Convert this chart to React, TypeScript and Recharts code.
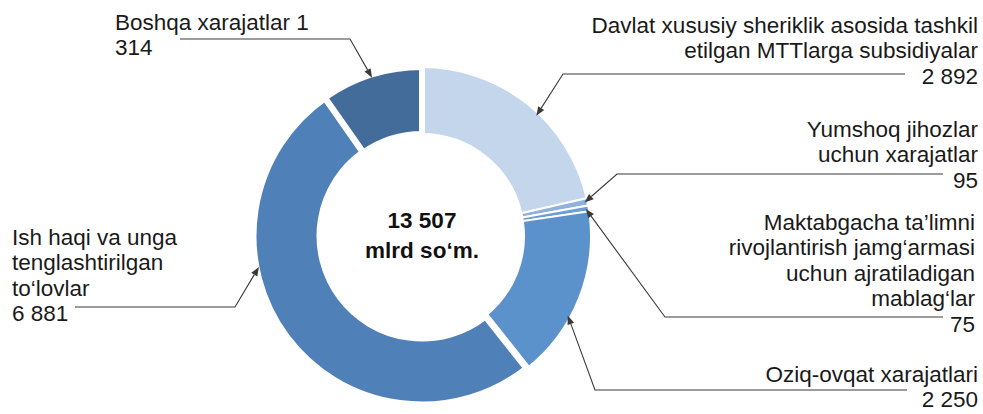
import React from "react";
import { PieChart, Pie, Cell } from "recharts";

// Data (mlrd so'm)
const NAMES = [
  "Davlat xususiy sheriklik asosida tashkil etilgan MTTlarga subsidiyalar",
  "Yumshoq jihozlar uchun xarajatlar",
  "Maktabgacha ta’limni rivojlantirish jamg‘armasi uchun ajratiladigan mablag‘lar",
  "Oziq-ovqat xarajatlari",
  "Ish haqi va unga tenglashtirilgan to‘lovlar",
  "Boshqa xarajatlar",
];
const VALUES = [2892, 95, 75, 2250, 6881, 1314];
const TOTAL_LINES = ["13 507", "mlrd so‘m."];

const COLORS = ["#c4d6eb", "#8eb1dd", "#6e9dd4", "#5b92cc", "#4f80b8", "#436c9b"];
// stroke widths per slice -> white gaps between slices
const GAPS = [2, 2, 2, 2, 7, 6];

const FONT = "'Liberation Sans', Arial, sans-serif";
const FS = 22.5;
const LH = 25.4;
const LINE = "#3a3a3a";

// label layout: words per line, text anchor, text x, first baseline, leader start/elbow, angle shift
const LAYOUT = [
  { words: [5, 3, 2], anchor: "end", x: 978, y: 33, lx: 905, ex: 563, ey: 74, shift: -5 },
  { words: [2, 2, 1], anchor: "end", x: 978, y: 137, lx: 943, ex: 617, ey: 174, shift: 0 },
  { words: [2, 2, 2, 1, 1], anchor: "end", x: 975, y: 230, lx: 943, ex: 665, ey: 317, shift: 0 },
  { words: [2, 2], anchor: "end", x: 978, y: 382, lx: 907, ex: 595, ey: 390, shift: -7 },
  { words: [4, 1, 1, 2], anchor: "start", x: 12, y: 245, lx: 75, ex: 235, ey: 307, shift: -26 },
  { words: [3, 1], anchor: "start", x: 115, y: 30, lx: 180, ex: 350, ey: 39, shift: 0 },
];

const data = NAMES.map((name, i) => ({ name, value: VALUES[i] }));

const fmt = (v: number) => String(v).replace(/\B(?=(\d{3})+(?!\d))/g, " ");

function splitLines(text: string, words: number[]) {
  const tokens = text.split(" ");
  const out: string[] = [];
  let k = 0;
  for (const n of words) {
    out.push(tokens.slice(k, k + n).join(" "));
    k += n;
  }
  return out;
}

const renderLabel = (props: any) => {
  const { cx, cy, midAngle, outerRadius, index, name, value } = props;
  const L = LAYOUT[index];
  const ang = ((midAngle + L.shift) * Math.PI) / 180;
  const r = outerRadius - 3;
  const tx = cx + r * Math.cos(ang);
  const ty = cy - r * Math.sin(ang);
  const dx = tx - L.ex;
  const dy = ty - L.ey;
  const len = Math.hypot(dx, dy);
  const ux = dx / len;
  const uy = dy / len;
  const bx = tx - ux * 9;
  const by = ty - uy * 9;
  const lines = splitLines(`${name} ${fmt(value)}`, L.words);

  return (
    <g key={`lbl-${index}`}>
      {index === 0 &&
        TOTAL_LINES.map((t, j) => (
          <text
            key={t}
            x={cx}
            y={cy - 8 + j * 30}
            textAnchor="middle"
            fontFamily={FONT}
            fontSize={FS}
            fontWeight="bold"
            fill="#111"
          >
            {t}
          </text>
        ))}
      <polyline
        points={`${L.lx},${L.ey} ${L.ex},${L.ey} ${bx},${by}`}
        fill="none"
        stroke={LINE}
        strokeWidth={1.1}
      />
      <polygon
        points={`${tx},${ty} ${bx - uy * 3.5},${by + ux * 3.5} ${bx + uy * 3.5},${by - ux * 3.5}`}
        fill={LINE}
      />
      {lines.map((t, j) => (
        <text
          key={j}
          x={L.x}
          y={L.y + j * LH}
          textAnchor={L.anchor}
          fontFamily={FONT}
          fontSize={FS}
          fill="#1a1a1a"
        >
          {t}
        </text>
      ))}
    </g>
  );
};

export default function App() {
  return (
    <div style={{ position: "absolute", left: 0, top: 0, width: 983, height: 414, background: "#fff" }}>
      <PieChart width={983} height={414} margin={{ top: 0, right: 0, bottom: 0, left: 0 }}>
        <Pie
          data={data}
          dataKey="value"
          nameKey="name"
          cx={422}
          cy={236}
          innerRadius={102}
          outerRadius={169}
          startAngle={90}
          endAngle={-270}
          paddingAngle={0}
          label={renderLabel}
          labelLine={false}
          isAnimationActive={false}
        >
          {data.map((d, i) => (
            <Cell key={d.name} fill={COLORS[i]} stroke="#ffffff" strokeWidth={GAPS[i]} />
          ))}
        </Pie>
      </PieChart>
    </div>
  );
}
